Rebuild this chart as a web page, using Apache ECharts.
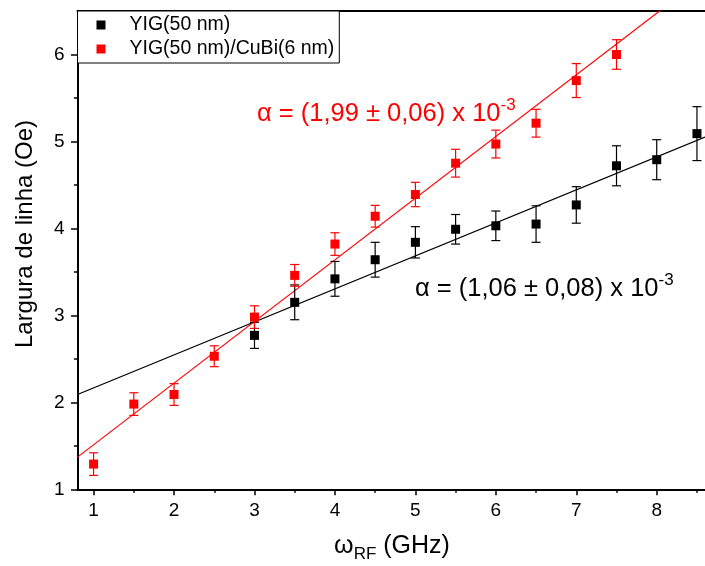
<!DOCTYPE html>
<html>
<head>
<meta charset="utf-8">
<title>Largura de linha vs frequência</title>
<script src="https://cdn.jsdelivr.net/npm/echarts@6/dist/echarts.min.js"></script>
<style>
  html, body { margin: 0; padding: 0; background: #fff; }
  #chart { width: 705px; height: 566px; }
</style>
</head>
<body>
<div id="chart"></div>
<script>
// Frequências (GHz)
const freqYIG = [3, 3.5, 4, 4.5, 5, 5.5, 6, 6.5, 7, 7.5, 8, 8.5];
const widthYIG = [2.77, 3.15, 3.42, 3.64, 3.84, 3.99, 4.03, 4.05, 4.27, 4.72, 4.79, 5.09];
const errYIG = [0.15, 0.2, 0.2, 0.2, 0.18, 0.17, 0.17, 0.21, 0.21, 0.23, 0.23, 0.31];

const freqCuBi = [1, 1.5, 2, 2.5, 3, 3.5, 4, 4.5, 5, 5.5, 6, 6.5, 7, 7.5];
const widthCuBi = [1.29, 1.98, 2.09, 2.53, 2.98, 3.46, 3.82, 4.14, 4.39, 4.75, 4.97, 5.21, 5.70, 6.00];
const errCuBi = [0.13, 0.13, 0.125, 0.12, 0.13, 0.125, 0.13, 0.125, 0.14, 0.16, 0.16, 0.16, 0.195, 0.17];

// Ajustes lineares (pontos extremos do intervalo do eixo)
const fitYIG = [[0.8, 2.09], [8.6, 5.05]];
const fitCuBi = [[0.8, 1.37], [8.6, 6.90]];

// Marcas dos eixos
const xMajorTicks = [1, 2, 3, 4, 5, 6, 7, 8];
const xMinorTicks = [1.5, 2.5, 3.5, 4.5, 5.5, 6.5, 7.5, 8.5];
const yMinorTicks = [1.5, 2.5, 3.5, 4.5, 5.5];

const nameYIG = 'YIG(50 nm)';
const nameCuBi = 'YIG(50 nm)/CuBi(6 nm)';
const alphaYIG = 'α = (1,06 ± 0,08) x 10';
const alphaCuBi = 'α = (1,99 ± 0,06) x 10';

const FONT = '"Liberation Sans", Arial, Helvetica, sans-serif';

function zip3(xs, ys, es) {
  return xs.map((x, i) => [x, ys[i], es[i]]);
}

function errorBars(color) {
  return function (params, api) {
    const x = api.value(0), y = api.value(1), e = api.value(2);
    const hi = api.coord([x, y + e]);
    const lo = api.coord([x, y - e]);
    const cap = 4.5;
    const style = { stroke: color, lineWidth: 1.2 };
    return {
      type: 'group',
      children: [
        { type: 'line', shape: { x1: hi[0], y1: hi[1], x2: lo[0], y2: lo[1] }, style },
        { type: 'line', shape: { x1: hi[0] - cap, y1: hi[1], x2: hi[0] + cap, y2: hi[1] }, style },
        { type: 'line', shape: { x1: lo[0] - cap, y1: lo[1], x2: lo[0] + cap, y2: lo[1] }, style }
      ]
    };
  };
}

function alphaLabel(x, y, body, color) {
  return {
    type: 'text', x: x, y: y, z: 10,
    style: {
      text: '{m|' + body + '}{s|-3}',
      fill: color, verticalAlign: 'middle', align: 'left',
      rich: {
        m: { fontFamily: FONT, fontSize: 25.5, color: color, lineHeight: 30, verticalAlign: 'bottom' },
        s: { fontFamily: FONT, fontSize: 17, color: color, lineHeight: 30, verticalAlign: 'top' }
      }
    }
  };
}

const chart = echarts.init(document.getElementById('chart'), null, { renderer: 'canvas' });

const axisLineStyle = { color: '#000', width: 2 };

const option = {
  animation: false,
  backgroundColor: '#fff',
  grid: { left: 77.5, top: 11, right: 0, bottom: 76.7, outerBoundsMode: 'none', containLabel: false },
  legend: {
    orient: 'vertical',
    left: 77.5,
    top: 11,
    data: [nameYIG, nameCuBi],
    icon: 'rect',
    itemWidth: 9,
    itemHeight: 9,
    itemGap: 4,
    padding: [4, 5, 4, 19],
    borderColor: '#000',
    borderWidth: 1,
    backgroundColor: '#fff',
    textStyle: { fontFamily: FONT, fontSize: 19.5, lineHeight: 20, color: '#000', padding: [0, 0, 0, 19] }
  },
  xAxis: [
    {
      type: 'value', min: 0.8, max: 8.6, position: 'bottom',
      axisLine: { show: true, lineStyle: axisLineStyle, onZero: false },
      axisTick: { show: true, inside: false, length: 6, lineStyle: { color: '#000', width: 1.5 }, customValues: xMajorTicks },
      axisLabel: { show: true, margin: 12, fontFamily: FONT, fontSize: 19, color: '#000', customValues: xMajorTicks },
      splitLine: { show: false }
    },
    {
      type: 'value', min: 0.8, max: 8.6, position: 'bottom',
      axisLine: { show: false, onZero: false },
      axisTick: { show: true, inside: false, length: 3.5, lineStyle: { color: '#000', width: 1.5 }, customValues: xMinorTicks },
      axisLabel: { show: false },
      splitLine: { show: false }
    },
    {
      type: 'value', min: 0.8, max: 8.6, position: 'top',
      axisLine: { show: true, lineStyle: axisLineStyle, onZero: false },
      axisTick: { show: false },
      axisLabel: { show: false },
      splitLine: { show: false }
    }
  ],
  yAxis: [
    {
      type: 'value', min: 1, max: 6.5, interval: 1, position: 'left',
      axisLine: { show: true, lineStyle: axisLineStyle, onZero: false },
      axisTick: { show: true, inside: false, length: 6.5, lineStyle: { color: '#000', width: 1.5 } },
      axisLabel: {
        show: true, margin: 13, fontFamily: FONT, fontSize: 19, color: '#000',
        showMaxLabel: false
      },
      splitLine: { show: false }
    },
    {
      type: 'value', min: 1, max: 6.5, position: 'left',
      axisLine: { show: false, onZero: false },
      axisTick: { show: true, inside: false, length: 3.5, lineStyle: { color: '#000', width: 1.5 }, customValues: yMinorTicks },
      axisLabel: { show: false },
      splitLine: { show: false }
    }
  ],
  series: [
    {
      type: 'line', data: fitYIG, showSymbol: false, symbol: 'none', clip: true,
      lineStyle: { color: '#000', width: 1.2 }, silent: true, z: 2
    },
    {
      type: 'line', data: fitCuBi, showSymbol: false, symbol: 'none', clip: true,
      lineStyle: { color: '#ff0000', width: 1.2 }, silent: true, z: 2
    },
    {
      type: 'custom', data: zip3(freqYIG, widthYIG, errYIG),
      renderItem: errorBars('#000'), encode: { x: 0, y: 1 }, z: 3, silent: true
    },
    {
      name: nameYIG, type: 'scatter', symbol: 'rect', symbolSize: 9,
      data: freqYIG.map((x, i) => [x, widthYIG[i]]),
      itemStyle: { color: '#000', opacity: 1 }, z: 4
    },
    {
      type: 'custom', data: zip3(freqCuBi, widthCuBi, errCuBi),
      renderItem: errorBars('#ff0000'), encode: { x: 0, y: 1 }, z: 5, silent: true
    },
    {
      name: nameCuBi, type: 'scatter', symbol: 'rect', symbolSize: 9,
      data: freqCuBi.map((x, i) => [x, widthCuBi[i]]),
      itemStyle: { color: '#ff0000', opacity: 1 }, z: 6
    }
  ],
  graphic: [
    alphaLabel(257, 112, alphaCuBi, '#ff0000'),
    alphaLabel(415, 287, alphaYIG, '#000'),
    {
      type: 'text', x: 25, y: 234, rotation: Math.PI / 2, z: 10,
      style: {
        text: 'Largura de linha (Oe)',
        font: '24px ' + FONT, fill: '#000', align: 'center', verticalAlign: 'middle'
      }
    },
    {
      type: 'text', x: 392, y: 546, z: 10,
      style: {
        text: '{m|ω}{s|RF}{m| (GHz)}',
        fill: '#000', align: 'center', verticalAlign: 'middle',
        rich: {
          m: { fontFamily: FONT, fontSize: 25, color: '#000', lineHeight: 34, verticalAlign: 'middle' },
          s: { fontFamily: FONT, fontSize: 17, color: '#000', lineHeight: 17, verticalAlign: 'bottom' }
        }
      }
    }
  ]
};

chart.setOption(option);
</script>
</body>
</html>
